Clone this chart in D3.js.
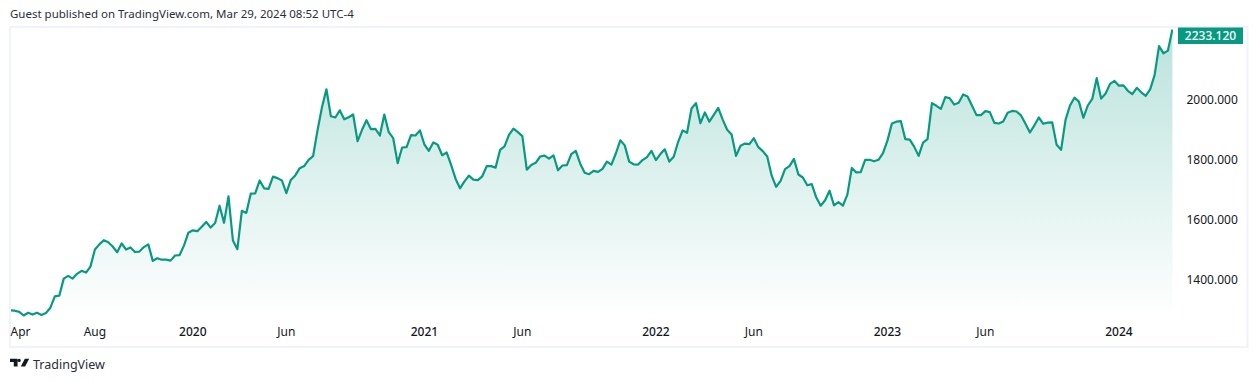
<!DOCTYPE html>
<html><head><meta charset="utf-8">
<script src="https://cdn.jsdelivr.net/npm/d3@7"></script>
<style>
html,body{margin:0;padding:0;background:#fff;overflow:hidden}
svg{display:block}
text{font-family:"Noto Sans",sans-serif}
</style></head><body>
<svg id="c" width="1258" height="382"></svg>
<script>
const prices = [
1297,1296,1292,1280,1289,1283,1289,1282,1288,1306,1344,1346,1403,1412,1403,1419,1429,1423,1443,1500,
1517,1531,1524,1510,1491,1520,1500,1507,1492,1493,1508,1517,1462,1471,1466,1466,1463,1480,1481,1513,
1556,1564,1561,1576,1592,1573,1588,1646,1589,1677,1530,1501,1629,1622,1686,1687,
1730,1704,1702,1743,1738,1730,1688,1732,1747,1771,1778,1799,1811,1897,1974,2034,1944,1940,1964,1934,
1941,1950,1861,1899,1931,1901,1902,1880,1950,1891,1871,1788,1840,1841,1881,1880,1897,
1850,1829,1857,1849,1814,1824,1782,1736,1704,1727,1746,1733,1731,1744,1778,1778,1773,1832,1844,1882,
1903,1891,1878,1766,1782,1789,1810,1813,1803,1814,1764,1780,1781,1818,1829,1786,1756,1751,1762,1759,
1769,1793,1783,1820,1864,1847,1793,1784,1783,1798,1808,1829,1798,1818,1834,1793,1809,1859,1897,1889,
1970,1988,1921,1957,1926,1949,1972,1933,1899,1883,1812,1846,1853,1851,1871,1841,1828,1810,1746,1709,
1729,1768,1778,1802,1750,1740,1714,1718,1674,1646,1664,1696,1647,1658,1646,1683,
1772,1757,1758,1799,1799,1794,1799,1821,1863,1920,1926,1928,1868,1866,1843,1812,1856,1868,1988,1979,
1969,2008,2004,1983,1989,2017,2010,1979,1948,1948,1961,1958,1922,1920,1927,1956,1962,1960,1947,1919,
1890,1914,1940,1919,1923,1924,1849,1832,1932,1980,2006,1993,1939,1980,2002,2071,2003,2020,2052,2062,
2046,2047,2029,2018,2039,2024,2012,2034,2081,2178,2154,2163,2233.12];
const lastPrice = "2233.120";
const xTickWeeks = [1,19,41,62,93,115,145,167,197,219,249];
const xTickLabels = ["Apr","Aug","2020","Jun","2021","Jun","2022","Jun","2023","Jun","2024"];
const yTicks = [1400,1600,1800,2000];
const title = "Guest published on TradingView.com, Mar 29, 2024 08:52 UTC-4";

const svg = d3.select("#c");
const GREEN = "#089981", FRAME = "#f0f3fa", INK = "#131722";

const x = d3.scaleLinear().domain([0, prices.length-1]).range([10.3, 1172.4]);
const y = d3.scaleLinear().domain([1400, 2000]).range([279.5, 99.5]);

svg.append("text").attr("x",10).attr("y",18).attr("fill","#2a2e39").attr("font-size",11.5).text(title);

const defs = svg.append("defs");
const grad = defs.append("linearGradient").attr("id","fill").attr("gradientUnits","userSpaceOnUse")
  .attr("x1",0).attr("x2",0).attr("y1",y(2233)).attr("y2",318);
grad.append("stop").attr("offset",0).attr("stop-color",GREEN).attr("stop-opacity",0.28);
grad.append("stop").attr("offset",1).attr("stop-color",GREEN).attr("stop-opacity",0);
defs.append("clipPath").attr("id","pane").append("rect").attr("x",11).attr("y",28).attr("width",1162).attr("height",294);

const g = svg.append("g").attr("clip-path","url(#pane)");
g.append("path").datum(prices).attr("fill","url(#fill)")
  .attr("d", d3.area().x((d,i)=>x(i)).y0(322).y1(d=>y(d)));
g.append("path").datum(prices).attr("fill","none").attr("stroke",GREEN).attr("stroke-width",2.2)
  .attr("stroke-linejoin","round").attr("d", d3.line().x((d,i)=>x(i)).y(d=>y(d)));

svg.append("rect").attr("x",10).attr("y",27).attr("width",1237.5).attr("height",320)
  .attr("fill","none").attr("stroke",FRAME).attr("stroke-width",2);

// y axis
const yAxis = svg.append("g").attr("transform","translate(1172.5,0)")
  .call(d3.axisRight(y).tickValues(yTicks).tickSize(0).tickPadding(14).tickFormat(d3.format(".3f")));
yAxis.select(".domain").remove();
yAxis.selectAll("text").attr("fill",INK).attr("font-size",12).style("font-family",'"Noto Sans",sans-serif');

// x axis
const xAxis = svg.append("g").attr("transform","translate(0,323.5)")
  .call(d3.axisBottom(x).tickValues(xTickWeeks).tickSize(0).tickPadding(4)
        .tickFormat((d,i)=>xTickLabels[i]));
xAxis.select(".domain").remove();
xAxis.selectAll("text").attr("fill",INK).attr("font-size",12)
  .style("font-family",'"Noto Sans",sans-serif')
  .attr("font-weight",(d,i)=>/^\d/.test(xTickLabels[i])?500:400)
  .attr("text-anchor",(d,i)=>i===0?"start":"middle")
  .attr("x",(d,i)=>i===0?10-x(d):-0.5);

// last price label
svg.append("rect").attr("x",1178).attr("y",27.5).attr("width",65).attr("height",16.5).attr("fill",GREEN);
svg.append("text").attr("x",1210.5).attr("y",40).attr("text-anchor","middle").attr("fill","#fff")
  .attr("font-size",12).attr("font-weight",500).text(lastPrice);

// logo
svg.append("path").attr("transform","translate(10,355.6) scale(.54)").attr("fill",INK)
  .attr("d","M14 6H0v6h7v8h7V6ZM28 20h-8l7.5-14h8L28 20ZM20 9a3 3 0 1 1-6 0 3 3 0 0 1 6 0Z");
svg.append("text").attr("x",33).attr("y",369).attr("fill","#2a2e39").attr("font-size",12.5).text("TradingView");
</script></body></html>
